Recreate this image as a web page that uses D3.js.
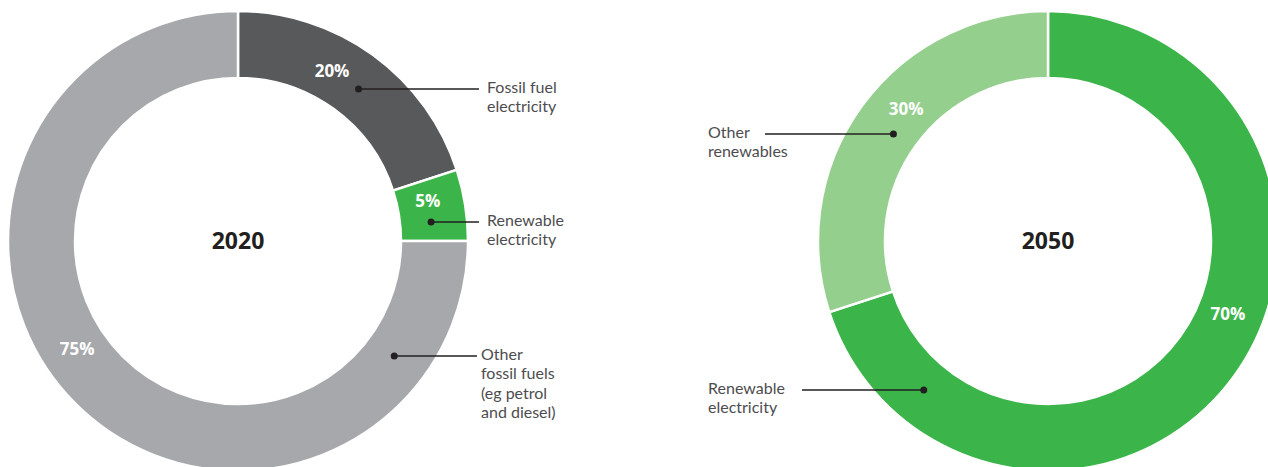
<html>
<head>
<script src="https://d3js.org/d3.v7.min.js"></script>
<style>
body { margin: 0; background: #fff; }
svg { display: block; }
.pct { font-family: 'Open Sans', sans-serif; font-weight: 700; font-size: 17px; fill: #fff; }
.year { font-family: 'Open Sans', sans-serif; font-weight: 700; font-size: 23px; fill: #231f20; }
.callout { font-family: Lato, sans-serif; font-weight: 400; font-size: 16px; fill: #4d4d4f; }
</style>
</head>
<body>
<svg width="1268" height="467"></svg>
<script>
// 2020 mix
var years = ["2020", "2050"];
var cats2020 = ["Fossil fuel electricity", "Renewable electricity", "Other fossil fuels (eg petrol and diesel)"];
var vals2020 = [20, 5, 75];
var lines2020 = [["Fossil fuel", "electricity"], ["Renewable", "electricity"], ["Other", "fossil fuels", "(eg petrol", "and diesel)"]];
// 2050 mix
var cats2050 = ["Renewable electricity", "Other renewables"];
var vals2050 = [70, 30];
var lines2050 = [["Renewable", "electricity"], ["Other", "renewables"]];

var colors2020 = ["#58595b", "#3bb54a", "#a7a8ab"];
var colors2050 = ["#3bb54a", "#94cf8d"];

var svg = d3.select("svg");
var outerR = 230, innerR = 163, midR = 194;

var pie = d3.pie().sort(null).value(function(d){ return d.v; });
var arc = d3.arc().innerRadius(innerR).outerRadius(outerR);

// layout: where each donut sits, label angles (deg), callout rows
var layout = [
  { cx: 238, cy: 241, side: 1,
    pctAngle: [29, 78, 236], calloutY: [89, 222, 356], calloutR: [194, 194, 194],
    lineEnd: [479, 479, 477], textXs: [487, 487, 481] },
  { cx: 1048, cy: 241, side: -1,
    pctAngle: [112, 313], calloutY: [390, 134], calloutR: [194, 188],
    lineEnd: [802, 765], textXs: [708, 708] }
];
var lineGap = 19.5;

function drawDonut(i, cats, vals, cols, lines) {
  var L = layout[i];
  var data = cats.map(function(c, j){ return { c: c, v: vals[j], col: cols[j], lines: lines[j] }; });
  var g = svg.append("g").attr("transform", "translate(" + L.cx + "," + L.cy + ")");

  g.selectAll("path.slice")
    .data(pie(data))
    .enter().append("path")
    .attr("class", "slice")
    .attr("d", arc)
    .style("fill", function(d){ return d.data.col; })
    .style("stroke", "#fff")
    .style("stroke-width", 2.5);

  var rad = Math.PI / 180;
  g.selectAll("text.pct")
    .data(data)
    .enter().append("text")
    .attr("class", "pct")
    .attr("x", function(d, j){ return Math.sin(L.pctAngle[j] * rad) * midR; })
    .attr("y", function(d, j){ return -Math.cos(L.pctAngle[j] * rad) * midR; })
    .attr("text-anchor", "middle")
    .attr("dy", "0.35em")
    .text(function(d){ return d.v + "%"; });

  g.append("text")
    .attr("class", "year")
    .attr("text-anchor", "middle")
    .attr("dy", "0.35em")
    .text(years[i]);

  data.forEach(function(d, j) {
    var r = L.calloutR[j];
    var dy = L.calloutY[j] - L.cy;
    var dx = L.side * Math.sqrt(r * r - dy * dy);
    g.append("line")
      .attr("x1", dx).attr("y1", dy)
      .attr("x2", L.lineEnd[j] - L.cx).attr("y2", dy)
      .style("stroke", "#231f20")
      .style("stroke-width", 1.3);
    g.append("circle")
      .attr("cx", dx).attr("cy", dy).attr("r", 3.5)
      .style("fill", "#231f20");
    d.lines.forEach(function(s, k) {
      g.append("text")
        .attr("class", "callout")
        .attr("x", L.textXs[j] - L.cx)
        .attr("y", dy - 2 + k * lineGap)
        .attr("dy", "0.35em")
        .text(s);
    });
  });
}

drawDonut(0, cats2020, vals2020, colors2020, lines2020);
drawDonut(1, cats2050, vals2050, colors2050, lines2050);
</script>
</body>
</html>
